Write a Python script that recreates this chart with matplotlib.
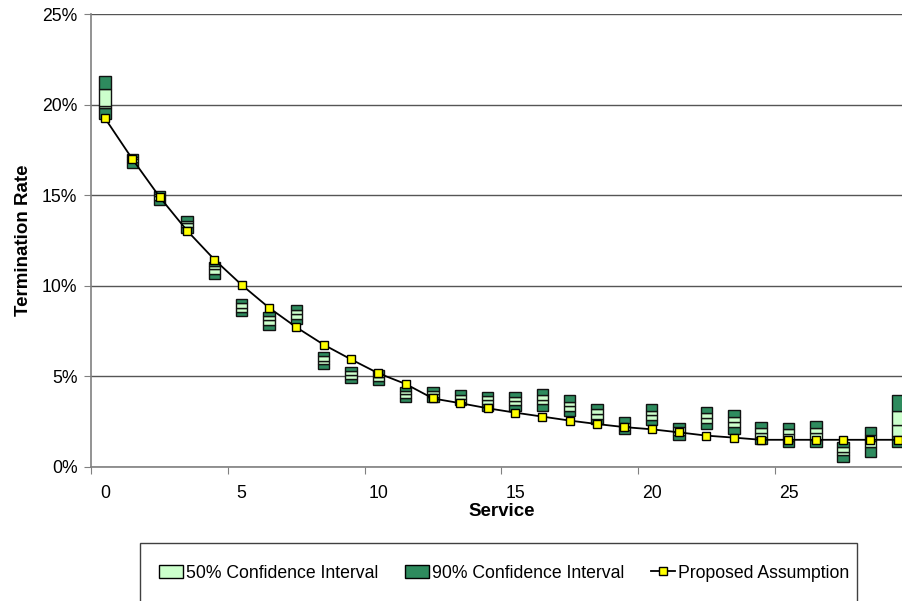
import matplotlib
matplotlib.use("Agg")
import matplotlib.pyplot as plt
from matplotlib.patches import Patch, Rectangle
from matplotlib.lines import Line2D
from matplotlib.ticker import FuncFormatter

plt.rcParams['font.family'] = ['Liberation Sans', 'DejaVu Sans']

# service years and percentile bands of the termination rate (%)
service = list(range(30))
p5 = [19.2, 16.5, 14.45, 12.9, 10.4, 8.35, 7.56, 7.89, 5.41, 4.62,
      4.5, 3.57, 3.6, 3.4, 3.1, 3.1, 3.1, 2.8, 2.38, 1.8,
      2.32, 1.5, 2.08, 1.82, 1.27, 1.1, 1.1, 0.3, 0.57, 1.09]
p25 = [19.8, 16.85, 14.75, 13.25, 10.65, 8.57, 7.84, 8.17, 5.67, 4.86,
       4.75, 3.79, 3.85, 3.6, 3.48, 3.42, 3.45, 3.09, 2.63, 2.05,
       2.6, 1.75, 2.45, 2.19, 1.67, 1.45, 1.5, 0.66, 1.1, 1.7]
p50 = [19.9, 17.0, 14.95, 13.45, 10.9, 8.8, 8.1, 8.43, 5.87, 5.08,
       4.95, 4.01, 4.05, 3.75, 3.7, 3.65, 3.7, 3.35, 2.9, 2.25,
       2.85, 1.95, 2.7, 2.5, 1.9, 1.8, 1.85, 0.85, 1.45, 2.3]
p75 = [20.85, 17.1, 15.05, 13.6, 11.1, 9.03, 8.35, 8.66, 6.13, 5.32,
       5.15, 4.21, 4.2, 4.0, 3.92, 3.88, 3.97, 3.6, 3.18, 2.45,
       3.1, 2.2, 2.96, 2.78, 2.17, 2.08, 2.17, 1.1, 1.77, 3.1]
p95 = [21.6, 17.3, 15.25, 13.85, 11.3, 9.25, 8.57, 8.94, 6.35, 5.54,
       5.35, 4.43, 4.43, 4.25, 4.15, 4.16, 4.32, 3.96, 3.46, 2.74,
       3.46, 2.45, 3.33, 3.15, 2.5, 2.45, 2.56, 1.4, 2.19, 3.97]
proposed = [19.25, 17.0, 14.9, 13.05, 11.45, 10.05, 8.79, 7.71, 6.75, 5.94,
            5.17, 4.58, 3.78, 3.52, 3.24, 3.0, 2.78, 2.56, 2.37, 2.2,
            2.08, 1.91, 1.73, 1.62, 1.5, 1.5, 1.5, 1.5, 1.5, 1.5]

dark = '#2E8B5E'
light = '#CCFFCC'

fig = plt.figure(figsize=(9.02, 6.01), dpi=100)
ax = fig.add_axes([0.1012, 0.2230, 0.9093, 0.7537])

w = 0.42
seg = [(p5, p25, dark), (p25, p50, light), (p50, p75, light), (p75, p95, dark)]
for lo, hi, col in seg:
    ax.bar(service, [h - l for l, h in zip(lo, hi)], bottom=lo, width=w,
           color=col, edgecolor='#111111', linewidth=1.0, zorder=2)

ax.plot(service, proposed, color='black', linewidth=1.3, marker='s',
        markersize=6, markerfacecolor='#FFFF00', markeredgecolor='black',
        markeredgewidth=1.0, zorder=3)

ax.set_xlim(-0.5, 29.5)
ax.set_ylim(0, 25)
ax.set_yticks([0, 5, 10, 15, 20, 25])
ax.yaxis.set_major_formatter(FuncFormatter(lambda v, p: f'{v:.0f}%'))
ax.grid(axis='y', color='#555555', linewidth=1.0, zorder=0)
ax.set_axisbelow(True)

ax.set_xticks([-0.5, 4.5, 9.5, 14.5, 19.5, 24.5])
ax.set_xticklabels([])
ax.set_xticks([0, 5, 10, 15, 20, 25], minor=True)
ax.set_xticklabels(['0', '5', '10', '15', '20', '25'], minor=True)
ax.tick_params(axis='x', which='minor', length=0, pad=13, labelsize=12.7)
ax.tick_params(axis='x', which='major', length=5, color='#808080')
ax.tick_params(axis='y', length=5, color='#808080', labelsize=12.7, pad=5)

for s in ['top', 'right']:
    ax.spines[s].set_visible(False)
for s in ['left', 'bottom']:
    ax.spines[s].set_color('#808080')
    ax.spines[s].set_linewidth(1.2)

ax.set_xlabel('Service', fontsize=13.5, fontweight='bold', labelpad=1)
ax.set_ylabel('Termination Rate', fontsize=13.5, fontweight='bold', labelpad=7)

handles = [
    Patch(facecolor=light, edgecolor='black', linewidth=1.0),
    Patch(facecolor=dark, edgecolor='black', linewidth=1.0),
    Line2D([], [], color='black', linewidth=1.3, marker='s', markersize=6,
           markerfacecolor='#FFFF00', markeredgecolor='black'),
]
labels = ['50% Confidence Interval', '90% Confidence Interval', 'Proposed Assumption']
fig.legend(handles, labels, loc='center', bbox_to_anchor=(504 / 902, 1 - 573 / 601),
           ncol=3, frameon=False, fontsize=12.7, handlelength=1.4, handleheight=0.7,
           handletextpad=0.15, columnspacing=1.5)
fig.patches.append(Rectangle((140 / 902, -0.02), (857 - 140) / 902, (601 - 543) / 601 + 0.02,
                             transform=fig.transFigure, fill=False,
                             edgecolor='#404040', linewidth=1.0))

fig.savefig('out.png', dpi=100)
